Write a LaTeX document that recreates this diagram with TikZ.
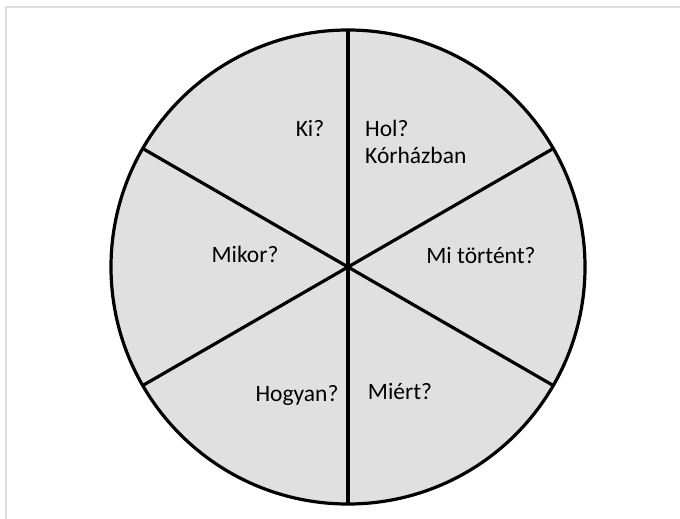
\documentclass[tikz,border=0pt]{standalone}
\usepackage{fontspec}
\setmainfont{Carlito}
\usepackage{xcolor}
\definecolor{WheelGray}{RGB}{224,224,224}
\definecolor{FrameGray}{RGB}{222,222,222}

\begin{document}
\begin{tikzpicture}[x=1pt,y=-1pt,
  question/.style={font=\fontsize{23.5}{27}\selectfont,inner sep=0pt}]
  \useasboundingbox (0,0) rectangle (680,519);
  % frame
  \draw[FrameGray,line width=1.5pt] (6,519) -- (6,7) -- (680,7);
  % wheel
  \node[circle,draw,fill=WheelGray,line width=3.2pt,minimum size=474pt,
        inner sep=0pt,outer sep=0pt] (wheel) at (348,267) {};
  % spokes
  \draw[line width=3.2pt] (wheel.90) -- (wheel.270);
  \draw[line width=3.2pt] (wheel.30) -- (wheel.210);
  \draw[line width=3.2pt] (wheel.150) -- (wheel.330);
  % questions
  \node[question] (ki) at (310,128) {Ki?};
  \node[question,align=left,anchor=west] (hol) at (365,142) {Hol?\\Kórházban};
  \node[question] (mikor) at (245,254) {Mikor?};
  \node[question] (tortent) at (481,255) {Mi történt?};
  \node[question] (hogyan) at (297,395) {Hogyan?};
  \node[question] (miert) at (400,391) {Miért?};
\end{tikzpicture}
\end{document}
